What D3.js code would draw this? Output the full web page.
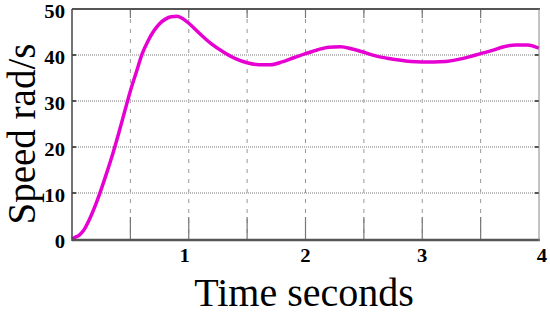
<!DOCTYPE html>
<html><head><meta charset="utf-8">
<script src="https://cdn.jsdelivr.net/npm/d3@7"></script>
<style>body{margin:0;background:#fff}svg{display:block}</style>
</head><body>
<script>
const timeS = [0,0.03,0.06,0.1,0.15,0.2,0.25,0.3,0.35,0.4,0.45,0.5,0.55,0.6,0.65,0.7,0.75,0.8,0.85,0.9,0.95,1.0,1.1,1.2,1.3,1.4,1.5,1.6,1.7,1.8,1.9,2.0,2.1,2.2,2.3,2.4,2.5,2.6,2.7,2.8,2.9,3.0,3.1,3.2,3.3,3.4,3.5,3.6,3.7,3.8,3.9,4.0];
const speed = [0,0.4,0.8,1.9,4.3,7.3,10.8,14.6,18.6,23.0,27.6,32.2,36.2,40.2,43.0,45.2,46.8,47.8,48.3,48.4,47.9,46.9,44.5,42.3,40.6,39.2,38.3,37.9,37.9,38.5,39.4,40.3,41.1,41.7,41.8,41.3,40.6,39.8,39.3,38.9,38.6,38.5,38.5,38.6,39.0,39.6,40.3,41.0,41.8,42.2,42.2,41.5];
const xTicks = [1,2,3,4];
const yTicks = [0,10,20,30,40,50];
const xGrid = [0.5,1,1.5,2,2.5,3,3.5];
const yGrid = [10,20,30,40];

const W=550,H=315, L=72,R=539,T=9,B=239;
const svg = d3.select("body").append("svg").attr("width",W).attr("height",H);
const x = d3.scaleLinear().domain([0,4]).range([L,R]);
const y = d3.scaleLinear().domain([0,50]).range([B,T]);

// grid
svg.append("g").selectAll("line").data(xGrid).join("line")
  .attr("x1",d=>x(d)).attr("x2",d=>x(d)).attr("y1",T).attr("y2",B)
  .attr("stroke","#999").attr("stroke-width",1).attr("stroke-dasharray","4,6");
svg.append("g").selectAll("line").data(yGrid).join("line")
  .attr("x1",L).attr("x2",R).attr("y1",d=>y(d)).attr("y2",d=>y(d))
  .attr("stroke","#bbb").attr("stroke-width",2).attr("stroke-dasharray","1,1");

// inner tick marks
svg.append("g").selectAll("line").data(xGrid).join("line")
  .attr("x1",d=>x(d)).attr("x2",d=>x(d)).attr("y1",B).attr("y2",B-22)
  .attr("stroke","#777").attr("stroke-width",1.2);
svg.append("g").selectAll("line").data(xGrid).join("line")
  .attr("x1",d=>x(d)).attr("x2",d=>x(d)).attr("y1",T).attr("y2",T+9)
  .attr("stroke","#777").attr("stroke-width",1.2);
svg.append("g").selectAll("line").data(yGrid).join("line")
  .attr("x1",L).attr("x2",L+4).attr("y1",d=>y(d)).attr("y2",d=>y(d))
  .attr("stroke","#555").attr("stroke-width",2);
svg.append("g").selectAll("line").data(yGrid).join("line")
  .attr("x1",R-4).attr("x2",R).attr("y1",d=>y(d)).attr("y2",d=>y(d))
  .attr("stroke","#555").attr("stroke-width",2);

// curve
svg.append("path").datum(timeS.map((t,i)=>[t,speed[i]]))
  .attr("fill","none").attr("stroke","#e600d2").attr("stroke-width",3.5)
  .attr("stroke-linejoin","round")
  .attr("d",d3.line().x(d=>x(d[0])).y(d=>y(d[1])).curve(d3.curveMonotoneX));

// frame
svg.append("line").attr("x1",L).attr("x2",R+1).attr("y1",B+1).attr("y2",B+1).attr("stroke","#555").attr("stroke-width",2.5);
svg.append("line").attr("x1",L).attr("x2",R+1).attr("y1",T).attr("y2",T).attr("stroke","#555").attr("stroke-width",2);
svg.append("line").attr("x1",L).attr("x2",L).attr("y1",T).attr("y2",B+2).attr("stroke","#444").attr("stroke-width",1.5);
svg.append("line").attr("x1",R).attr("x2",R).attr("y1",T).attr("y2",B+2).attr("stroke","#888").attr("stroke-width",1);

// tick labels
svg.append("g").selectAll("text").data(yTicks).join("text")
  .attr("transform",d=>`translate(${L-7},${y(d)+9}) scale(1.15,1)`).attr("text-anchor","end")
  .attr("font-family","Liberation Serif").attr("font-weight","bold").attr("font-size",18)
  .text(d=>d);
svg.append("g").selectAll("text").data(xTicks).join("text")
  .attr("transform",d=>`translate(${x(d)+(d===4?3:d===1?-4:0)},${B+23}) scale(1.15,1)`).attr("text-anchor","middle")
  .attr("font-family","Liberation Serif").attr("font-weight","bold").attr("font-size",18)
  .text(d=>d);

// axis titles
svg.append("text").attr("x",304).attr("y",306).attr("text-anchor","middle")
  .attr("font-family","Liberation Serif").attr("font-size",40).text("Time seconds");
svg.append("text").attr("transform",`translate(35,134) rotate(-90)`).attr("text-anchor","middle")
  .attr("font-family","Liberation Serif").attr("font-size",39).text("Speed rad/s");
</script>
</body></html>
